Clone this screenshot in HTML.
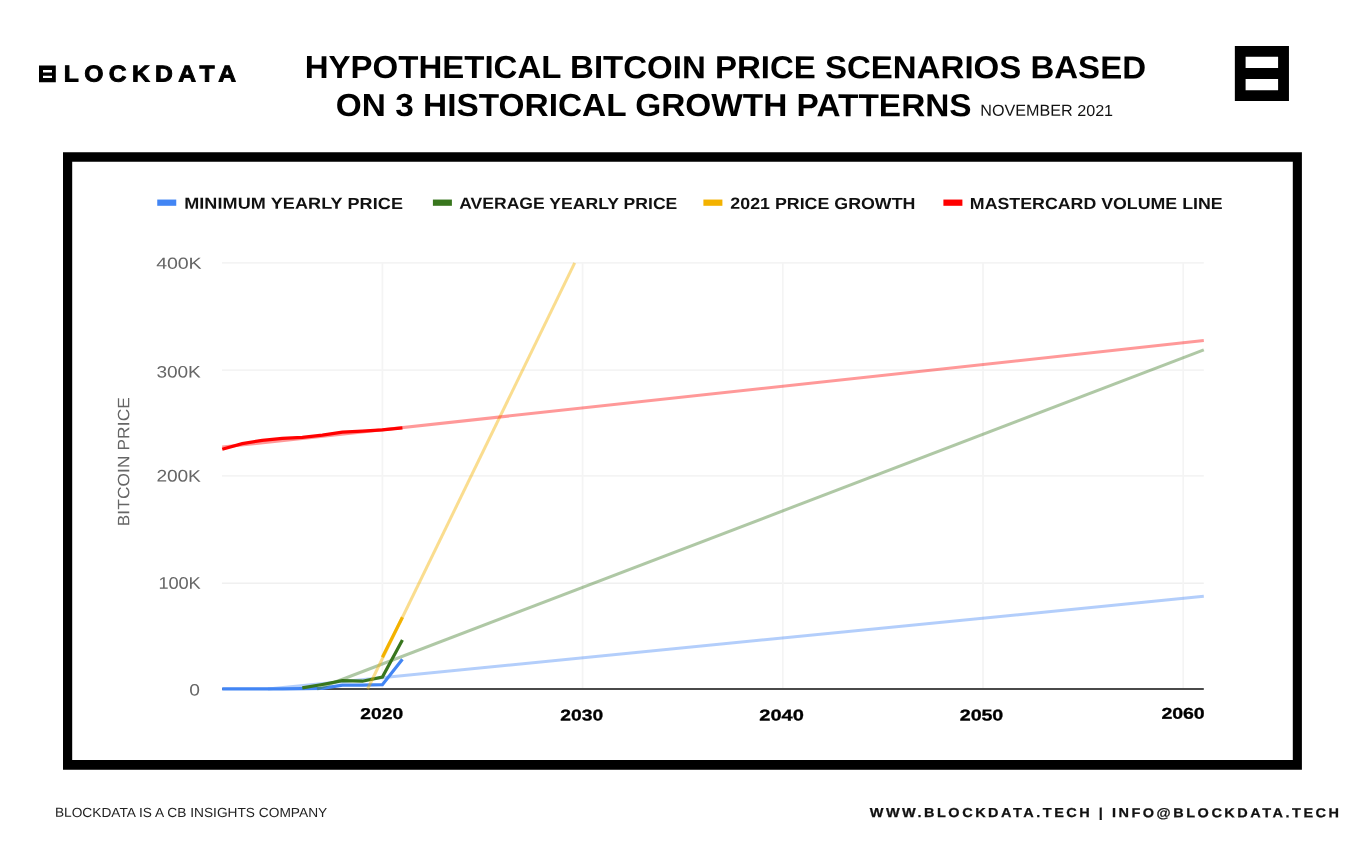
<!DOCTYPE html>
<html lang="en"><head><meta charset="utf-8"><title>Hypothetical Bitcoin Price Scenarios</title>
<style>
html,body{margin:0;padding:0;background:#fff;}
body{width:1365px;height:848px;position:relative;overflow:hidden;font-family:"Liberation Sans",sans-serif;}
.chart{position:absolute;left:0;top:0;}
.t{position:absolute;white-space:nowrap;line-height:1;transform-origin:0 0;margin:0;text-rendering:geometricPrecision;}

#logo{left:63px;top:62px;font-size:23.04px;font-weight:700;color:#000;letter-spacing:5.011px;transform:translate(0.86px,0.48px) rotate(0.03deg) scaleX(1.07);}
#t1{left:304px;top:51px;font-size:31.83px;font-weight:700;color:#000;letter-spacing:-0.003px;transform:translate(0.7px,0.96px) rotate(0.03deg) scaleX(1.0374);}
#t2{left:335px;top:89px;font-size:31.83px;font-weight:700;color:#000;letter-spacing:0.004px;transform:translate(0.85px,0.88px) rotate(0.03deg) scaleX(1.0491);}
#t3{left:980px;top:103px;font-size:15.84px;font-weight:400;color:#111;letter-spacing:-0.013px;transform:translate(0.37px,0.83px) rotate(0.03deg) scaleX(1.0207);}
#l1{left:184px;top:195px;font-size:16.13px;font-weight:700;color:#111;letter-spacing:0.077px;transform:translate(0.14px,0.79px) rotate(0.03deg) scaleX(1.12);}
#l2{left:459px;top:195px;font-size:16.13px;font-weight:700;color:#111;letter-spacing:0.009px;transform:translate(0.14px,0.83px) rotate(0.03deg) scaleX(1.0902);}
#l3{left:730px;top:195px;font-size:16.13px;font-weight:700;color:#111;letter-spacing:0.002px;transform:translate(0.37px,0.87px) rotate(0.03deg) scaleX(1.1053);}
#l4{left:969px;top:195px;font-size:16.13px;font-weight:700;color:#111;letter-spacing:0.009px;transform:translate(0.85px,0.9px) rotate(0.03deg) scaleX(1.1024);}
#y4{left:156px;top:255px;font-size:16.13px;font-weight:400;color:#666;letter-spacing:-0.134px;transform:translate(0.36px,0.81px) rotate(0.03deg) scaleX(1.216);}
#y3{left:156px;top:364px;font-size:16.57px;font-weight:400;color:#666;letter-spacing:-0.099px;transform:translate(0.42px,0.6px) rotate(0.03deg) scaleX(1.1518);}
#y2{left:156px;top:468px;font-size:16.72px;font-weight:400;color:#666;letter-spacing:-0.112px;transform:translate(0.44px,0.61px) rotate(0.03deg) scaleX(1.1477);}
#y1{left:158px;top:575px;font-size:16.86px;font-weight:400;color:#666;letter-spacing:-0.131px;transform:translate(0.56px,0.65px) rotate(0.03deg) scaleX(1.0816);}
#y0{left:189px;top:682px;font-size:16.42px;font-weight:400;color:#666;letter-spacing:0.0px;transform:translate(0.14px,0.59px) rotate(0.03deg) scaleX(1.1715);}
#x1{left:360px;top:707px;font-size:15.7px;font-weight:700;color:#000;letter-spacing:-0.011px;transform:translate(0.38px,0.01px) rotate(0.03deg) scaleX(1.2262);}
#x2{left:560px;top:708px;font-size:15.7px;font-weight:700;color:#000;letter-spacing:0.01px;transform:translate(0.28px,0.5px) rotate(0.03deg) scaleX(1.2262);}
#x3{left:759px;top:708px;font-size:15.7px;font-weight:700;color:#000;letter-spacing:-0.009px;transform:translate(0.38px,0.5px) rotate(0.03deg) scaleX(1.2762);}
#x4{left:959px;top:708px;font-size:15.7px;font-weight:700;color:#000;letter-spacing:-0.112px;transform:translate(0.88px,0.5px) rotate(0.03deg) scaleX(1.2549);}
#x5{left:1161px;top:706px;font-size:15.7px;font-weight:700;color:#000;letter-spacing:-0.038px;transform:translate(0.43px,0.83px) rotate(0.03deg) scaleX(1.2438);}
#f1{left:54px;top:805px;font-size:13.23px;font-weight:400;color:#222;letter-spacing:0.005px;transform:translate(0.9px,0.87px) rotate(0.03deg) scaleX(1.0378);}
#f2{left:869px;top:806px;font-size:12.94px;font-weight:700;color:#111;letter-spacing:2.245px;transform:translate(0.71px,0.99px) rotate(0.03deg) scaleX(1.12);}
#yt{left:116px;top:526px;font-size:16.5px;color:#666;letter-spacing:0.132px;transform:translate(0.37px,0.36px) rotate(-90.03deg) scaleX(1.045);}
#logo{-webkit-text-stroke:0.9px #000;}
#f2{-webkit-text-stroke:0.25px #111;}
#x1,#x2,#x3,#x4,#x5{-webkit-text-stroke:0.3px #000;}
</style></head><body>
<svg class="chart" width="1365" height="848" viewBox="0 0 1365 848"><path fill="#000" fill-rule="evenodd" d="M39 65.5H55.8V82.3H39Z M43 70H52V72.4H43Z M43 75.7H52V78.1H43Z"/><path fill="#000" fill-rule="evenodd" d="M1234.85 45.9H1288.95V101H1234.85Z M1245.6 56.8H1278.1V68H1245.6Z M1245.6 78.9H1278.1V90.3H1245.6Z"/><path fill="#000" fill-rule="evenodd" d="M63 152.2H1301.9V769.7H63Z M72.2 161.8H1292.8V760H72.2Z"/></svg>
<svg class="chart" width="1365" height="848" viewBox="0 0 1365 848">
<line x1="221.94" y1="583.3" x2="1203.8" y2="583.3" stroke="#f0f0f0" stroke-width="1.4"/>
<line x1="221.94" y1="475.9" x2="1203.8" y2="475.9" stroke="#f0f0f0" stroke-width="1.4"/>
<line x1="221.94" y1="370.1" x2="1203.8" y2="370.1" stroke="#f0f0f0" stroke-width="1.4"/>
<line x1="221.94" y1="262.9" x2="1203.8" y2="262.9" stroke="#f0f0f0" stroke-width="1.4"/>
<line x1="382.4" y1="262.9" x2="382.4" y2="689.0" stroke="#f4f4f4" stroke-width="1.7"/>
<line x1="582.6" y1="262.9" x2="582.6" y2="689.0" stroke="#f4f4f4" stroke-width="1.7"/>
<line x1="782.8" y1="262.9" x2="782.8" y2="689.0" stroke="#f4f4f4" stroke-width="1.7"/>
<line x1="983.0" y1="262.9" x2="983.0" y2="689.0" stroke="#f4f4f4" stroke-width="1.7"/>
<line x1="1183.2" y1="262.9" x2="1183.2" y2="689.0" stroke="#f4f4f4" stroke-width="1.7"/>
<line x1="222.24" y1="689.0" x2="1203.8" y2="689.0" stroke="#4a4a4a" stroke-width="2"/>
<line x1="268" y1="689.0" x2="1203.8" y2="596.3" stroke="#4285f4" stroke-opacity="0.4" stroke-width="3"/>
<polyline points="222.24,688.9 242.26,688.9 262.28,688.8 282.3,688.8 302.32,688.6 322.34,688.3 342.36,685.2 362.38,685.2 382.4,684.7 402.42,659.3" fill="none" stroke="#4285f4" stroke-width="3.2" stroke-linejoin="miter"/>
<line x1="317" y1="689.0" x2="1203.8" y2="349.8" stroke="#38761d" stroke-opacity="0.4" stroke-width="3"/>
<polyline points="302.32,687.9 322.34,684.5 342.36,680.7 362.38,681.2 382.4,677.0 402.42,639.9" fill="none" stroke="#38761d" stroke-width="3.2"/>
<line x1="367.6" y1="689.0" x2="574.7" y2="262.9" stroke="#f3b200" stroke-opacity="0.44" stroke-width="3"/>
<polyline points="382.4,657.2 402.42,617.3" fill="none" stroke="#f3b200" stroke-width="3.2"/>
<line x1="222.24" y1="447.1" x2="1203.8" y2="340.6" stroke="#ff0000" stroke-opacity="0.4" stroke-width="3"/>
<polyline points="222.24,449.2 242.26,443.6 262.28,440.4 282.3,438.3 302.32,437.3 322.34,435.2 342.36,432.2 362.38,431.1 382.4,429.9 402.42,427.8" fill="none" stroke="#ff0000" stroke-width="3.2"/>
<rect x="157.25" y="199.55" width="19" height="6.25" fill="#4285f4"/>
<rect x="432.9" y="199.55" width="19" height="6.25" fill="#38761d"/>
<rect x="703.4" y="199.55" width="19" height="6.25" fill="#f3b200"/>
<rect x="943.4" y="199.55" width="19" height="6.25" fill="#ff0000"/>
</svg>
<div class="t" id="logo">LOCKDATA</div>
<div class="t" id="t1">HYPOTHETICAL BITCOIN PRICE SCENARIOS BASED</div>
<div class="t" id="t2">ON 3 HISTORICAL GROWTH PATTERNS</div>
<div class="t" id="t3">NOVEMBER 2021</div>
<div class="t" id="l1">MINIMUM YEARLY PRICE</div>
<div class="t" id="l2">AVERAGE YEARLY PRICE</div>
<div class="t" id="l3">2021 PRICE GROWTH</div>
<div class="t" id="l4">MASTERCARD VOLUME LINE</div>
<div class="t" id="y4">400K</div>
<div class="t" id="y3">300K</div>
<div class="t" id="y2">200K</div>
<div class="t" id="y1">100K</div>
<div class="t" id="y0">0</div>
<div class="t" id="x1">2020</div>
<div class="t" id="x2">2030</div>
<div class="t" id="x3">2040</div>
<div class="t" id="x4">2050</div>
<div class="t" id="x5">2060</div>
<div class="t" id="f1">BLOCKDATA IS A CB INSIGHTS COMPANY</div>
<div class="t" id="f2">WWW.BLOCKDATA.TECH | INFO@BLOCKDATA.TECH</div>
<div class="t" id="yt">BITCOIN PRICE</div>
</body></html>
